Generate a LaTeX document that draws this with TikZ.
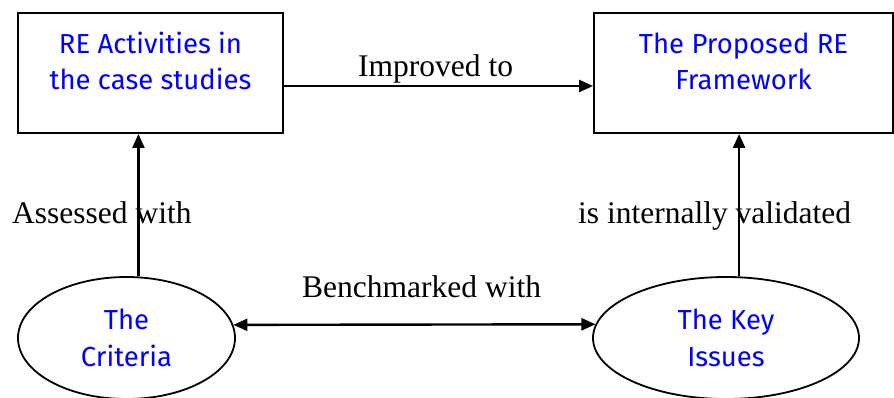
\documentclass[tikz,border=0pt]{standalone}
\usepackage{fontspec}
\setmainfont{Liberation Serif}
\newfontfamily\bluefont{Fira Sans}
\usetikzlibrary{arrows.meta,calc,shapes.geometric}
\begin{document}
\begin{tikzpicture}[x=1pt,y=-1pt,
  box/.style={draw,line width=2pt,minimum width=#1,minimum height=120pt,inner sep=0pt,
    align=center,text=blue,text depth=24pt,font=\bluefont\fontsize{27.5}{35.5}\selectfont},
  oval/.style={draw,ellipse,line width=1.8pt,minimum width=#1,minimum height=122pt,inner sep=0pt,
    align=center,text=blue,font=\bluefont\fontsize{27.5}{37.5}\selectfont},
  arr/.style={line width=2.4pt,-{Triangle[length=14pt,width=12pt]}},
  darr/.style={line width=2.4pt,{Triangle[length=14pt,width=12pt]}-{Triangle[length=14pt,width=12pt]}},
  lbl/.style={anchor=base west,inner sep=0pt,font=\fontsize{31.5}{36}\selectfont}]
\useasboundingbox (0,0) rectangle (894,398);
\node[box=265pt] (lbox) at (150.5,73) {RE Activities in\\the case studies};
\node[box=299pt] (rbox) at (743.5,73) {The Proposed RE\\Framework};
\node[oval=217pt] (lell) at (126.5,338) {The\\Criteria};
\node[oval=266pt] (rell) at (726,338) {The Key\\Issues};
\draw[arr] ($(lbox.east)+(0,13)$) coordinate (t1) -- (t1 -| rbox.west);
\draw[arr] (lell.79.3) -- (lell.79.3 |- lbox.south);
\draw[arr] (rell.78.8) -- (rell.78.8 |- rbox.south);
\draw[darr] (lell.7) -- (rell.174.3);
\node[lbl] (l1) at (358,77) {Improved to};
\node[lbl] (l2) at (12,224) {Assessed with};
\node[lbl] (l3) at (578,224) {is internally validated};
\node[lbl] (l4) at (302,297) {Benchmarked with};
\end{tikzpicture}
\end{document}
